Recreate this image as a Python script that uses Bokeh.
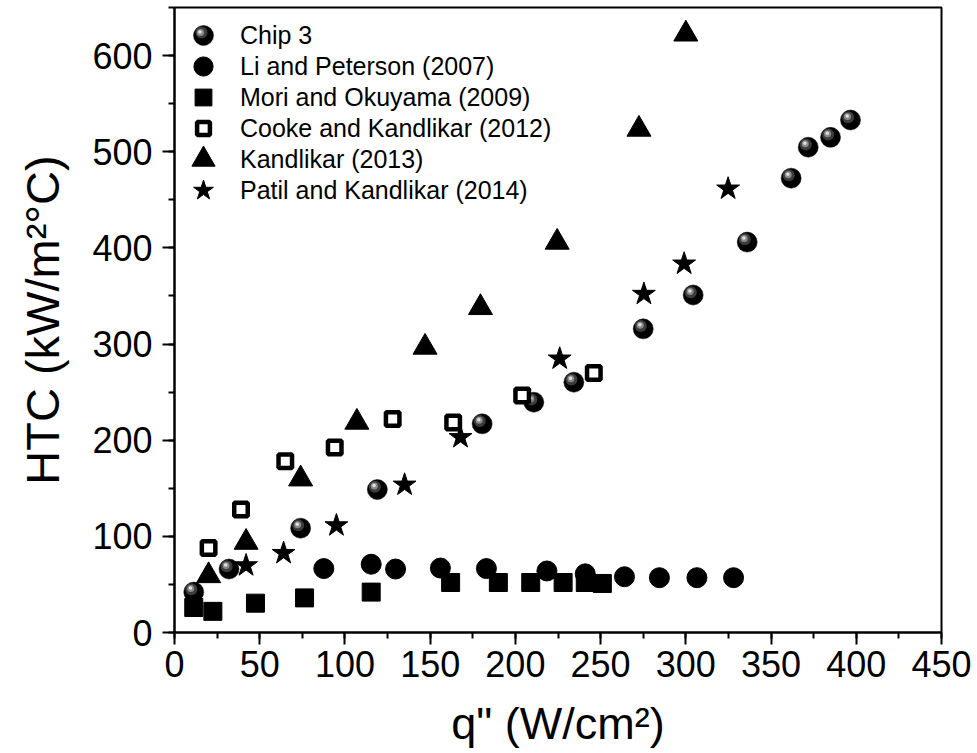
from bokeh.plotting import figure
from bokeh.models import Range1d, SingleIntervalTicker, Legend, LegendItem, ColumnDataSource
from bokeh.transform import dodge
from bokeh.embed import file_html
from bokeh.resources import INLINE

# ---- data ----
chip3_q = [11.3, 32, 74, 119, 180.5, 210.8, 234.3, 275, 304.3, 336, 361.8, 371.8, 384.9, 396.6]
chip3_htc = [42, 66, 108.5, 148.7, 217, 239.5, 260.3, 315.8, 351, 406, 472.5, 504.7, 515, 533]

li_q = [87.6, 115.4, 129.7, 156, 183, 218.5, 241, 264, 284.5, 306.5, 328]
li_htc = [66.5, 71, 66, 67, 66.5, 64, 61, 58, 57, 57, 57]

mori_q = [11.3, 22.5, 47.5, 76.3, 115.4, 162, 190, 209, 228, 241, 251]
mori_htc = [26, 22, 30.5, 36, 42, 52, 52, 52, 52, 52, 51]

cooke_q = [20, 39, 65, 94, 128, 163.5, 204, 246]
cooke_htc = [88, 128, 178, 192.5, 222, 218.5, 246.5, 270]

kand_q = [20, 42, 74, 107, 147, 179.5, 224.5, 272.5, 300]
kand_htc = [62.7, 97.4, 163.3, 222.3, 300.3, 341.5, 409.5, 527, 626]

patil_q = [42, 64, 95, 135, 167.8, 226, 275.4, 299, 324.8]
patil_htc = [69.7, 82.5, 111.3, 153.6, 203, 284.7, 352, 383.5, 461.5]

labels = ["Chip 3", "Li and Peterson (2007)", "Mori and Okuyama (2009)",
          "Cooke and Kandlikar (2012)", "Kandlikar (2013)", "Patil and Kandlikar (2014)"]

FONT = "Liberation Sans"
X_MAX, Y_MAX = 450, 650
FRAME_L, FRAME_R, FRAME_T, FRAME_B = 174, 941, 7, 632
FRAME_H = FRAME_B - FRAME_T
PX_PER_X = (FRAME_R - FRAME_L) / X_MAX
PX_PER_Y = FRAME_H / Y_MAX

p = figure(width=977, height=753, x_range=Range1d(0, X_MAX), y_range=Range1d(0, Y_MAX),
           output_backend="svg", toolbar_location=None,
           min_border_left=FRAME_L, min_border_right=977 - FRAME_R,
           min_border_top=FRAME_T, min_border_bottom=753 - FRAME_B)
p.background_fill_color = "white"
p.border_fill_color = "white"
p.outline_line_color = "black"
p.outline_line_width = 2
p.xgrid.visible = False
p.ygrid.visible = False

p.xaxis.ticker = SingleIntervalTicker(interval=50, num_minor_ticks=2)
p.yaxis.ticker = SingleIntervalTicker(interval=100, num_minor_ticks=2)
for ax in (p.xaxis[0], p.yaxis[0]):
    ax.axis_line_width = 2
    ax.axis_line_color = "black"
    ax.major_tick_line_width = 2
    ax.minor_tick_line_width = 2
    ax.major_tick_out = 12
    ax.major_tick_in = 0
    ax.minor_tick_out = 6
    ax.minor_tick_in = 0
    ax.major_label_text_font = FONT
    ax.major_label_text_font_size = "36px"
    ax.major_label_text_color = "black"
    ax.axis_label_text_font = FONT
    ax.axis_label_text_font_style = "normal"
    ax.axis_label_text_color = "black"

p.xaxis.axis_label = 'q" (W/cm\u00b2)'
p.yaxis.axis_label = "HTC (kW/m\u00b2\u00b0C)"
p.xaxis.axis_label_text_font_size = "45px"
p.yaxis.axis_label_text_font_size = "47px"
p.xaxis.major_label_standoff = 6
p.yaxis.major_label_standoff = 10
p.xaxis.axis_label_standoff = 18
p.yaxis.axis_label_standoff = 20

# ---- series ----
src_chip = ColumnDataSource(dict(q=chip3_q, htc=chip3_htc))
r_chip0 = p.scatter("q", "htc", source=src_chip, marker="circle", size=20,
                    fill_color="black", line_color="black", line_width=0.5)
r_chip1 = p.scatter(dodge("q", -2.4 / PX_PER_X), dodge("htc", 2.8 / PX_PER_Y), source=src_chip,
                    marker="circle", size=12, fill_color="#3c3c3c", line_color=None)
r_chip2 = p.scatter(dodge("q", -3.0 / PX_PER_X), dodge("htc", 3.5 / PX_PER_Y), source=src_chip,
                    marker="circle", size=7, fill_color="#8a8a8a", line_color=None)
r_chip3 = p.scatter(dodge("q", -3.3 / PX_PER_X), dodge("htc", 4.0 / PX_PER_Y), source=src_chip,
                    marker="circle", size=3.5, fill_color="#e0e0e0", line_color=None)

r_li = p.scatter(li_q, li_htc, marker="circle", size=20, fill_color="black", line_color="black")
r_mori = p.scatter(mori_q, mori_htc, marker="square", size=18, fill_color="black", line_color="black")
r_cooke = p.scatter(cooke_q, cooke_htc, marker="square", size=13.5, fill_color="white",
                    line_color="black", line_width=4.5)
src_k = ColumnDataSource(dict(q=kand_q, htc=kand_htc))
r_kand = p.scatter("q", dodge("htc", -3.5 / PX_PER_Y), source=src_k, marker="triangle", size=24,
                   fill_color="black", line_color="black")
r_patil = p.scatter(patil_q, patil_htc, marker="star", size=24, fill_color="black", line_color="black")

# ---- legend: one small legend per entry so every key glyph gets its own size ----
# Legend markers are drawn at 0.4 x the glyph box, so box = marker size / 0.4.
KEY_CX = 29          # key centre, px from the frame's left edge
TEXT_X = 66          # label start, px from the frame's left edge
ROW0, ROW_PITCH = 28, 31


def add_key(label, renderers, box, row, dx=0.0, dy=0.0, font_size="25px"):
    yc = ROW0 + row * ROW_PITCH
    vx = KEY_CX - box / 2 + dx
    vy = FRAME_H - yc - box / 2 + dy
    lg = Legend(items=[LegendItem(label=label, renderers=renderers)], location=(vx, vy))
    lg.border_line_color = None
    lg.background_fill_alpha = 0
    lg.margin = 0
    lg.padding = 0
    lg.spacing = 0
    lg.glyph_width = box
    lg.glyph_height = box
    lg.label_height = 1
    lg.label_standoff = int(round(TEXT_X - vx - box))
    lg.label_text_font = FONT
    lg.label_text_font_size = font_size
    lg.label_text_color = "black"
    lg.label_text_baseline = "middle"
    p.add_layout(lg)


add_key(labels[0], [r_chip0], 50, 0)
add_key(" ", [r_chip1], 30, 0, dx=-2.4, dy=2.8, font_size="1px")
add_key(" ", [r_chip2], 18, 0, dx=-3.0, dy=3.5, font_size="1px")
add_key(" ", [r_chip3], 9, 0, dx=-3.3, dy=4.0, font_size="1px")
add_key(labels[1], [r_li], 48, 1)
add_key(labels[2], [r_mori], 42, 2)
add_key(labels[3], [r_cooke], 32, 3)
add_key(labels[4], [r_kand], 58, 4)
add_key(labels[5], [r_patil], 52, 5)

open("out.html", "w").write(file_html(p, INLINE))
